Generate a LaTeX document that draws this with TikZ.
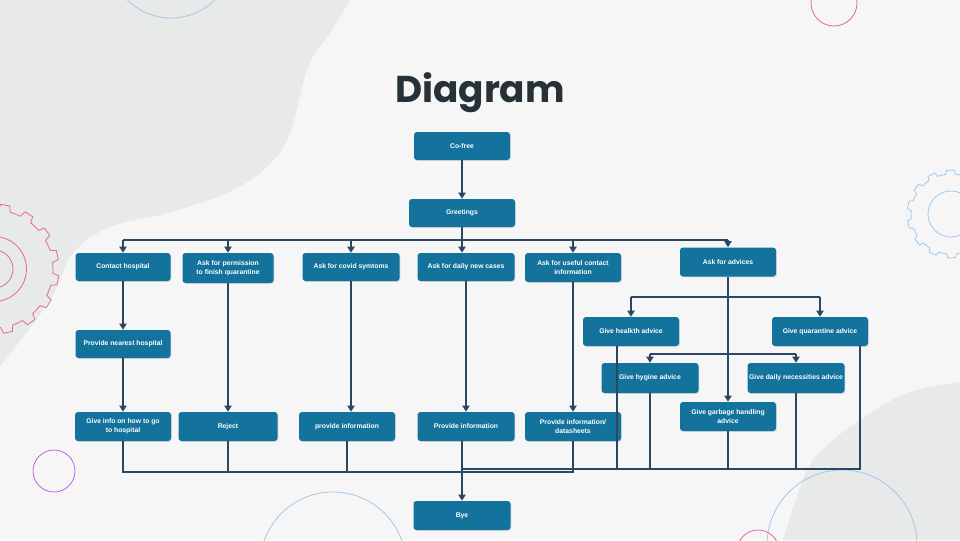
\documentclass[tikz,border=0pt]{standalone}
\usepackage{fontspec}
\usetikzlibrary{arrows.meta,calc,shadows}
\newfontfamily\boxfont{Liberation Sans}
\newfontfamily\titlefont{Poppins}
\definecolor{bgc}{HTML}{F6F6F6}
\definecolor{blobc}{HTML}{E8E9E9}
\definecolor{boxc}{HTML}{13739D}
\definecolor{linec}{HTML}{2B4661}
\definecolor{titlec}{HTML}{263238}
\definecolor{gpink}{HTML}{E2679F}
\definecolor{gblue}{HTML}{A4C8E8}
\definecolor{gpurple}{HTML}{B866E6}
\tikzset{
  box/.style={fill=boxc, rounded corners=2.2pt, text=white, align=center,
    inner sep=0pt, font=\boxfont\bfseries\fontsize{5.1}{6.6}\selectfont,
    drop shadow={opacity=0.22, shadow xshift=0.7pt, shadow yshift=-0.7pt}},
  ln/.style={draw=linec, line width=1.5pt},
  ar/.style={ln, -{Triangle[width=5.4pt,length=4.6pt]}},
  deco/.style={line width=0.6pt}
}
\newcommand{\bx}[6]{\node[box, minimum width=#4*0.75pt, minimum height=#5*0.75pt] (#1) at (#2,#3) {#6};}
\begin{document}
\begin{tikzpicture}[x=0.75pt,y=-0.75pt]
\useasboundingbox (0,0) rectangle (960,540);
% background
\fill[bgc] (0,0) rectangle (960,540);
\fill[blobc] plot[smooth, tension=0.6] coordinates {(350,0) (330,33) (308,67) (290,133) (267,167) (227,193) (167,213) (110,227) (73,253) (50,300) (0,367)} -- (0,0) -- cycle;
\fill[blobc] plot[smooth, tension=0.6] coordinates {(783,540) (807,470) (830,443) (860,420) (907,393) (960,382)} -- (960,540) -- cycle;
% decorations
\begin{scope}
\clip (0,0) rectangle (960,540);
\draw[gblue, deco] (171,-44) circle[radius=62];
\draw[gpink, deco] (834,3) circle[radius=23];
\draw[gpurple, deco] (54,471) circle[radius=21];
\draw[gblue, deco] (333,565) circle[radius=73];
\draw[gblue, deco] (842,545) circle[radius=75];
\draw[gpink, deco] (758,551) circle[radius=21];
\begin{scope}[shift={(-6,269)}]
\draw[gpink, deco] (0:59) \foreach \a in {0,22.5,...,337.5} { -- (\a+4:59) -- (\a+6:65) -- (\a+14:65) -- (\a+16:59) -- (\a+22.5:59) } -- cycle;
\draw[gpink, deco] (0,0) circle[radius=32.5];
\draw[gpink, deco] (0,0) circle[radius=19];
\end{scope}
\begin{scope}[shift={(951,214)}]
\draw[gblue, deco] (0:40) \foreach \a in {0,25.714,...,334} { -- (\a+5:40) -- (\a+7:44) -- (\a+17:44) -- (\a+19:40) -- (\a+25.714:40) } -- cycle;
\draw[gblue, deco] (0,0) circle[radius=23];
\end{scope}
\end{scope}
% title
\node[anchor=base, text=titlec, font=\titlefont\bfseries\fontsize{28}{30}\selectfont, inner sep=0pt] (title) at (480,102) {Diagram};
% boxes
\bx{cofree}{462}{146}{96}{28}{Co-free}
\bx{greet}{462}{213}{106}{28}{Greetings}
\bx{contact}{123}{267}{95}{28}{Contact hospital}
\bx{perm}{228}{268}{91}{30}{Ask for permission\\to finish quarantine}
\bx{covid}{351}{267}{97}{28}{Ask for covid symtoms}
\bx{daily}{466}{267}{97}{28}{Ask for daily new cases}
\bx{useful}{573}{267.5}{96}{29}{Ask for useful contact\\information}
\bx{advices}{728}{262}{96}{29}{Ask for advices}
\bx{nearest}{123}{344}{95}{28}{Provide nearest hospital}
\bx{info}{123}{426.5}{96}{29}{Give info on how to go\\to hospital}
\bx{reject}{228}{426.5}{99}{29}{Reject}
\bx{provA}{347}{426.5}{96}{29}{provide information}
\bx{provB}{466}{426.5}{97}{29}{Provide information}
\bx{datas}{573}{426.5}{96}{29}{Provide information/\\datasheets}
\bx{health}{631}{331.5}{96}{29}{Give healkth advice}
\bx{quar}{820}{331.5}{96}{29}{Give quarantine advice}
\bx{hyg}{650}{378}{97}{30}{Give hygine advice}
\bx{dnec}{796}{378}{97}{30}{Give daily necessities advice}
\bx{garb}{728}{416.5}{96}{29}{Give garbage handling\\advice}
\bx{bye}{462}{515.5}{97}{29}{Bye}
% connectors top
\draw[ar] (cofree.south) -- (greet.north);
\coordinate (busT) at (462,240);
\draw[ln] (greet.south) -- (busT);
\draw[ln] (contact.north |- busT) -- (advices.north |- busT);
\draw[ar] (contact.north |- busT) -- (contact.north);
\draw[ar] (perm.north |- busT) -- (perm.north);
\draw[ar] (covid.north |- busT) -- (covid.north);
\draw[ar] (busT) -- (busT |- daily.north);
\draw[ar] (useful.north |- busT) -- (useful.north);
\draw[ar] (advices.north |- busT) -- (advices.north);
% columns
\draw[ar] (contact.south) -- (nearest.north);
\draw[ar] (nearest.south) -- (info.north);
\draw[ar] (perm.south) -- (reject.north);
\draw[ar] (covid.south) -- (covid.south |- provA.north);
\draw[ar] (daily.south) -- (provB.north);
\draw[ar] (useful.south) -- (datas.north);
% advices
\coordinate (b1) at (728,297);
\coordinate (b2) at (728,354);
\draw[ar] (advices.south) -- (garb.north);
\draw[ln] (health.north |- b1) -- (quar.north |- b1);
\draw[ar] (health.north |- b1) -- (health.north);
\draw[ar] (quar.north |- b1) -- (quar.north);
\draw[ln] (hyg.north |- b2) -- (dnec.north |- b2);
\draw[ar] (hyg.north |- b2) -- (hyg.north);
\draw[ar] (dnec.north |- b2) -- (dnec.north);
% bottom buses
\coordinate (busB) at (462,472);
\coordinate (busR) at (462,469);
\coordinate (hx) at ($(health.south)+(-14,0)$);
\coordinate (qx) at ($(quar.south)+(40,0)$);
\draw[ln] (info.south) -- (info.south |- busB) -- (datas.south |- busB) -- (datas.south);
\draw[ln] (reject.south) -- (reject.south |- busB);
\draw[ln] (provA.south) -- (provA.south |- busB);
\draw[ln] (busT |- provB.south) -- (busB);
\draw[ln] (busR) -- (qx |- busR) -- (qx);
\draw[ln] (hx) -- (hx |- busR);
\draw[ln] (hyg.south) -- (hyg.south |- busR);
\draw[ln] (garb.south) -- (garb.south |- busR);
\draw[ln] (dnec.south) -- (dnec.south |- busR);
\draw[ar] (busB) -- (bye.north);
\end{tikzpicture}
\end{document}
